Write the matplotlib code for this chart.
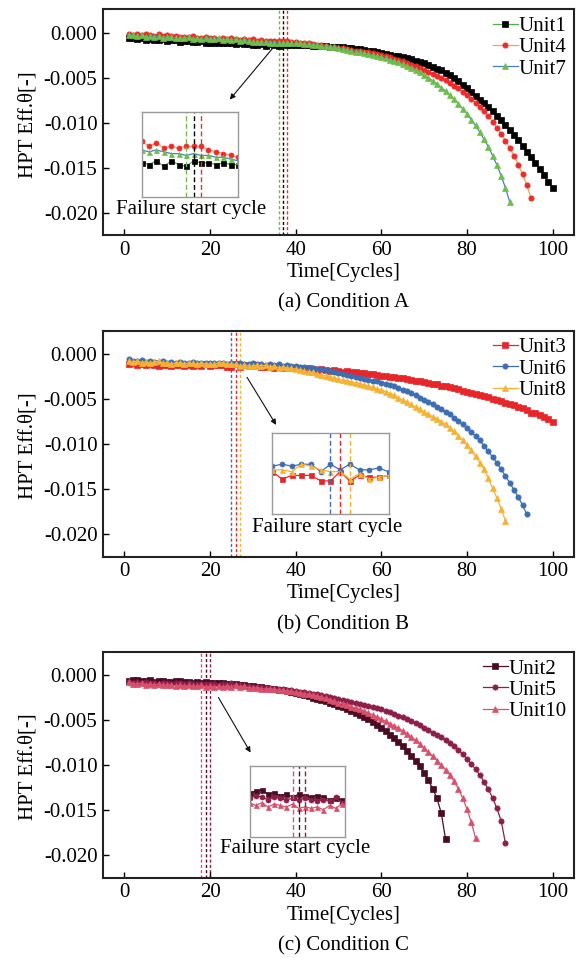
import numpy as np
import matplotlib
matplotlib.use("Agg")
import matplotlib.pyplot as plt

plt.rcParams['font.family'] = ['Liberation Serif', 'DejaVu Serif']
plt.rcParams['mathtext.fontset'] = 'stix'

SCALE = 1e-4  # values below are in units of 1e-4

# ---------------- Condition A ----------------
unit1 = [-5.5, -6, -7.5, -6.5, -8, -7, -8.5, -8, -7, -9,
         -8, -8.5, -10, -9, -9.5, -10, -10.5, -9.5, -11, -12,
         -11, -11.5, -12, -11, -12, -12.5, -11.5, -13, -12.5, -13.5,
         -14, -13, -14.5, -13, -14, -14.5, -13, -13.5, -13.5, -14,
         -13.5, -14, -14, -14.5, -14.5, -15, -15, -15.5, -15.5, -16,
         -16.5, -17, -17.5, -18, -18.5, -19, -20, -20.5, -21.5, -22.5,
         -23.5, -24.5, -25.5, -26.5, -27.5, -28.5, -29.5, -31, -32.5, -34,
         -36, -38, -40, -42, -44.5, -47.5, -50.5, -54, -58, -62,
         -66, -70, -74.5, -78.5, -83, -87.5, -92.5, -97.5, -102.5, -108,
         -113.5, -119.5, -125.5, -132, -138, -145, -151, -158.5, -165.5, -172]
unit4 = [-2, -2.5, -1.5, -3, -1, -2.5, -3.5, -2, -4, -3,
         -4, -3.5, -5, -4.5, -5, -4, -5.5, -6, -5, -6.5,
         -6, -7, -6.5, -7.5, -6, -7, -8, -7.5, -8, -7.5,
         -9, -8, -9.5, -9, -9.5, -9, -9, -9, -10, -10.5,
         -11, -11.5, -12, -13, -13.5, -14, -14.5, -15.5, -16, -17,
         -17.5, -18.5, -19, -20, -20.5, -21.5, -22, -23, -24, -25,
         -26, -27.5, -29, -30.5, -32, -33.5, -35.5, -37.5, -39.5, -41.5,
         -43.5, -45.5, -48, -50.5, -53, -56, -59, -62, -65.5, -69,
         -73.5, -78, -82.5, -87.5, -93, -99, -105.5, -112.5, -120, -128,
         -137, -146.5, -157, -169.5, -184]
unit7 = [-3, -2.5, -4, -3, -4.5, -3.5, -5, -4, -5.5, -4.5,
         -5, -6, -5.5, -6.5, -5, -7, -6, -7.5, -6.5, -7,
         -7.5, -6.5, -8, -7, -8.5, -7.5, -9, -8, -9.5, -10,
         -10.5, -10, -10.5, -11, -11, -11.5, -11, -11.5, -11.5, -12,
         -12, -12.5, -13, -13.5, -14, -14.5, -15, -15.5, -16, -17,
         -18, -19, -20, -21, -22, -23, -24, -25, -26, -27,
         -28.5, -30, -31.5, -33, -35, -37, -39, -41.5, -44, -47,
         -50, -53.5, -57, -61, -65, -69.5, -74, -79, -84.5, -90,
         -96.5, -103, -110.5, -118.5, -127, -136.5, -147, -159, -172.5, -188]

# ---------------- Condition B ----------------
unit3 = [-11, -10.5, -12, -11, -12.5, -11.5, -12, -13, -12, -12.5,
         -13, -12, -12.5, -13.5, -12, -13, -12.5, -13.5, -11.5, -13.5,
         -12.5, -12.5, -12.5, -14, -14, -11.5, -14, -12.5, -13, -13,
         -12.5, -14, -14.5, -14, -15, -14.5, -15.5, -15, -16, -15.5,
         -16, -16.5, -16, -17, -17.5, -17, -18, -18.5, -18, -19,
         -19.5, -19, -20, -20.5, -21, -21.5, -22, -22.5, -23.5, -24,
         -24.5, -25, -26, -26.5, -27, -28, -28.5, -29.5, -30, -31.5,
         -32, -33, -33.5, -35, -35.5, -37, -38, -39, -40.5, -42,
         -43.5, -44.5, -46, -47, -48, -49.5, -50.5, -52, -54, -55.5,
         -57, -58.5, -60, -62, -65, -66, -68, -70, -72.5, -76]
unit6 = [-5, -7.5, -8, -7, -9, -7.5, -8.5, -9, -8, -9.5,
         -9, -10, -9, -10, -9.5, -9, -10.5, -9.5, -10, -9.5,
         -10, -9.5, -9.5, -11.5, -9.5, -11, -9.5, -11, -11, -10.5,
         -11.5, -11, -12.5, -11.5, -12.5, -11, -13, -12, -13, -13.5,
         -14, -14.5, -15, -15.5, -16.5, -17, -17.5, -18.5, -19.5, -21,
         -22, -23, -24, -25, -26.5, -27.5, -28.5, -29.5, -30.5, -32,
         -33, -34.5, -36, -37.5, -39.5, -41.5, -43.5, -46, -48.5, -51,
         -53.5, -56, -58.5, -61, -64, -67, -70.5, -74, -78, -82,
         -86.5, -91, -96, -102, -108, -114.5, -121, -128, -135.5, -143,
         -151, -159, -168, -178]
unit8 = [-8, -9, -7.5, -9.5, -8.5, -10, -9, -8, -10, -9.5,
         -11, -10, -9.5, -11, -10, -10.5, -11.5, -10, -11, -11,
         -11.5, -9.5, -10, -11, -11.5, -11.5, -13.5, -12, -13.5, -13,
         -12.5, -13, -12.5, -14, -13.5, -15, -14.5, -15.5, -16, -16.5,
         -17.5, -18.5, -19.5, -20.5, -22, -23, -24, -25, -26.5, -28,
         -29, -30, -31, -32, -33, -34.5, -35.5, -37, -38.5, -40,
         -42, -44, -46, -48.5, -51, -53.5, -56, -58.5, -61, -64,
         -67, -69.5, -72, -75, -78, -82, -86, -90.5, -95.5, -101,
         -107, -113.5, -120.5, -128, -138, -149, -160, -172, -185]

# ---------------- Condition C ----------------
unit2 = [-7, -6, -5.5, -6.5, -7, -6, -7.5, -7, -6.5, -8,
         -7.5, -7, -6.5, -8, -7.5, -8.5, -8, -9, -8, -8.5,
         -9, -8.5, -9, -10, -9.5, -10, -11, -11.5, -12, -12.5,
         -13, -13.5, -14, -15, -15.5, -16.5, -17, -18, -19, -20,
         -21, -22, -23.5, -25, -26.5, -28, -29, -30.5, -32, -34,
         -36, -38, -40, -42, -44, -46.5, -49, -52, -55.5, -59,
         -62.5, -66, -70, -74.5, -79, -84, -89.5, -95, -101.5, -109,
         -117, -126, -137, -153, -182]
unit5 = [-8, -8.5, -7.5, -9, -8, -9, -8.5, -9.5, -8.5, -9,
         -9.5, -8.5, -9, -10, -9, -9.5, -10, -9.5, -10, -9.5,
         -10, -10.5, -10, -10.5, -9, -11, -11.5, -12, -12.5, -13,
         -13.5, -13.5, -14, -14.5, -15, -15.5, -16, -16.5, -17, -18,
         -18.5, -19, -19.5, -20.5, -21, -22, -23, -24, -25, -26.5,
         -27.5, -28.5, -29.5, -31, -32, -33.5, -34.5, -35.5, -36.5, -38,
         -39.5, -41, -43, -45, -47, -49, -51, -53.5, -56, -59,
         -61.5, -64, -66.5, -69, -72, -75.5, -79, -83, -88, -93,
         -98.5, -104.5, -111, -118.5, -127, -136.5, -148, -162, -187]
unit10 = [-8, -9.5, -10, -9, -10.5, -10, -11, -10, -11.5, -10.5,
          -11, -12, -11, -12.5, -11.5, -12, -12.5, -11.5, -13, -12.5,
          -13, -12.5, -13.5, -12, -13, -11.5, -13.5, -12.5, -14, -14.5,
          -14, -15, -15.5, -15, -16, -16.5, -17, -17.5, -18, -19,
          -19.5, -20.5, -21.5, -22, -23.5, -24.5, -26, -27.5, -29, -31,
          -32, -33.5, -35, -36.5, -38, -40, -42, -44, -46.5, -49,
          -51.5, -54, -56.5, -59, -62, -65, -68.5, -72.5, -76.5, -81,
          -85.5, -90, -95, -100, -105, -111, -118, -126, -136.5, -149,
          -163, -181]

labels_a = ['Unit1', 'Unit4', 'Unit7']
labels_b = ['Unit3', 'Unit6', 'Unit8']
labels_c = ['Unit2', 'Unit5', 'Unit10']
failure_a = [37, 38, 36]
failure_b = [26, 25, 27]
failure_c = [19, 20, 18]
xticks = [0, 20, 40, 60, 80, 100]
yticks = [0.0, -0.005, -0.010, -0.015, -0.020]
ytick_labels = ['0.000', '-0.005', '-0.010', '-0.015', '-0.020']

FS = 15

panels = [
    dict(series=[unit1, unit4, unit7], labels=labels_a, fail=failure_a,
         mcol=['#000000', '#f02a2a', '#6cbf4a'], lcol=['#4daf4a', '#f4a05c', '#4a7ebf'],
         mk=['s', 'o', '^'], ax=[0.1788, 0.7544, 0.8177, 0.236],
         inset=[0.2457, 0.7940, 0.1679, 0.0894], ixlim=(30, 43), iylim=(-23, 0.5),
         txt=(0.3316, 0.7818), arr=((0.4757, 0.9513), (0.3958, 0.8938)),
         cap='(a) Condition A'),
    dict(series=[unit3, unit6, unit8], labels=labels_b, fail=failure_b,
         mcol=['#e8262a', '#3d6db3', '#f6b232'], lcol=['#e8262a', '#3d6db3', '#f6b232'],
         mk=['s', 'o', '^'], ax=[0.1788, 0.4189, 0.8177, 0.236],
         inset=[0.4729, 0.4631, 0.2017, 0.0852], ixlim=(19, 31), iylim=(-23, -1),
         txt=(0.5677, 0.4496), arr=((0.4264, 0.6086), (0.4819, 0.5540)),
         cap='(b) Condition B'),
    dict(series=[unit2, unit5, unit10], labels=labels_c, fail=failure_c,
         mcol=['#4b0c22', '#8e1d4a', '#d9506c'], lcol=['#4b0c22', '#8e1d4a', '#d9506c'],
         mk=['s', 'o', '^'], ax=[0.1788, 0.0838, 0.8177, 0.236],
         inset=[0.4333, 0.1266, 0.1655, 0.0741], ixlim=(11, 26.5), iylim=(-23, 2),
         txt=(0.5122, 0.1145), arr=((0.3767, 0.2745), (0.4375, 0.2119)),
         cap='(c) Condition C'),
]

fig = plt.figure(figsize=(5.76, 9.58), dpi=100)

for p in panels:
    ax = fig.add_axes(p['ax'])
    for s, lab, mc, lc, mk in zip(p['series'], p['labels'], p['mcol'], p['lcol'], p['mk']):
        y = np.array(s) * SCALE
        x = np.arange(1, len(y) + 1)
        ax.plot(x, y, color=lc, lw=0.9, marker=mk, ms=3.8, mfc=mc, mec=mc, mew=0.5, label=lab)
    for f, mc in zip(p['fail'], p['mcol']):
        ax.axvline(f, color=mc, lw=1.0, ls=(0, (2.2, 1.6)), zorder=1)
    ax.set_xlim(-5, 105)
    ax.set_ylim(-0.0225, 0.0026)
    ax.set_xticks(xticks)
    ax.set_xticklabels([str(t) for t in xticks])
    ax.set_yticks(yticks)
    ax.set_yticklabels(ytick_labels)
    ax.tick_params(direction='in', length=4, width=1.0, labelsize=FS, pad=4)
    for sp in ax.spines.values():
        sp.set_linewidth(1.5)
        sp.set_color('#222222')
    ax.legend(loc='upper right', frameon=False, fontsize=FS, handlelength=1.2,
              handletextpad=0.05, labelspacing=0.08, borderaxespad=0.15,
              borderpad=0.2)
    ax.text(0.51, -0.165, 'Time[Cycles]', transform=ax.transAxes, ha='center', va='center', fontsize=FS)
    ax.text(0.51, -0.30, p['cap'], transform=ax.transAxes, ha='center', va='center', fontsize=FS)
    ax.text(-0.16, 0.49, 'HPT Eff.θ[-]', transform=ax.transAxes, ha='center', va='center',
            rotation=90, fontsize=FS)

    # inset
    ia = fig.add_axes(p['inset'])
    for s, mc, lc, mk in zip(p['series'], p['mcol'], p['lcol'], p['mk']):
        y = np.array(s)
        x = np.arange(1, len(y) + 1)
        ia.plot(x, y, color=lc, lw=0.9, marker=mk, ms=3.6, mfc=mc, mec=mc, mew=0.5)
    for f, mc in zip(p['fail'], p['mcol']):
        ia.axvline(f, color=mc, lw=1.0, ls=(0, (3.5, 2)))
    ia.set_xlim(*p['ixlim'])
    ia.set_ylim(*p['iylim'])
    ia.set_xticks([])
    ia.set_yticks([])
    for sp in ia.spines.values():
        sp.set_linewidth(1.0)
        sp.set_color('#9a9a9a')
    fig.text(p['txt'][0], p['txt'][1], 'Failure start cycle', ha='center', va='center', fontsize=FS)
    fig.add_artist(matplotlib.patches.FancyArrowPatch(
        p['arr'][0], p['arr'][1], transform=fig.transFigure,
        arrowstyle='-|>', mutation_scale=8, lw=0.8, color='#111111'))

fig.savefig('out.png', dpi=100)
